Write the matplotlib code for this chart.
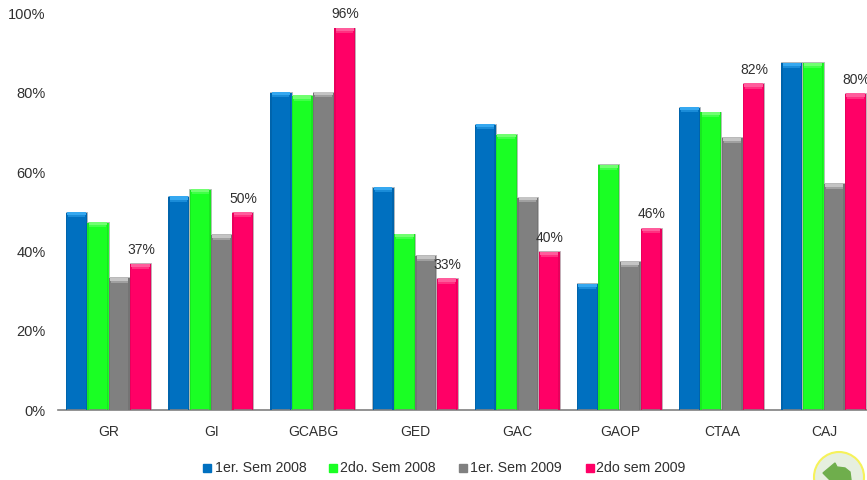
import numpy as np
import matplotlib
matplotlib.use("Agg")
import matplotlib.pyplot as plt
from matplotlib.patches import Circle, Polygon

plt.rcParams['font.family'] = ['Liberation Sans', 'DejaVu Sans']

groups = ['GR', 'GI', 'GCABG', 'GED', 'GAC', 'GAOP', 'CTAA', 'CAJ']
sem1_2008 = [50, 54, 80.3, 56.3, 72.2, 32, 76.5, 87.7]
sem2_2008 = [47.5, 55.8, 79.5, 44.5, 69.7, 62, 75.3, 87.7]
sem1_2009 = [33.5, 44.3, 80.3, 39, 53.8, 37.5, 68.8, 57.2]
sem2_2009 = [37, 50, 96.5, 33.3, 40, 46, 82.5, 80]
labels_2009 = ['37%', '50%', '96%', '33%', '40%', '46%', '82%', '80%']
series_names = ['1er. Sem 2008', '2do. Sem 2008', '1er. Sem 2009', '2do sem 2009']
colors = ['#0070c0', '#1aff24', '#808080', '#ff0066']
tops = ['#35a8f0', '#70ff70', '#c4c4c4', '#ff5c9c']
mids = ['#1a8cd8', '#40ff48', '#a0a0a0', '#ff3080']
sides = ['#0064ac', '#18e820', '#747474', '#e8005c']

W, H = 867, 480
fig = plt.figure(figsize=(W / 100, H / 100), dpi=100)
ax = fig.add_axes([58 / W, (H - 410) / H, (W - 58) / W, (410 - 13.75) / H])
ax.patch.set_alpha(0)

x = np.arange(len(groups))
w = 0.2085
all_series = [sem1_2008, sem2_2008, sem1_2009, sem2_2009]
for i, vals in enumerate(all_series):
    pos = x + (i - 1.5) * w - 0.005
    ax.bar(pos, vals, w * 1.0, color=colors[i], edgecolor='#b8b8b8', linewidth=0.6,
           label=series_names[i], zorder=2)
    # bevel on the top and the sides
    ax.bar(pos, [0.5] * 8, w * 0.8, bottom=np.array(vals) - 1.4, color=mids[i], zorder=3)
    ax.bar(pos, [0.8] * 8, w * 0.88, bottom=np.array(vals) - 0.9, color=tops[i], zorder=3)
    ax.bar(pos - w * 0.46, np.array(vals) - 0.2, w * 0.06, color=sides[i], zorder=3)
    ax.bar(pos + w * 0.46, np.array(vals) - 0.2, w * 0.06, color=sides[i], zorder=3)

for i, v in enumerate(sem2_2009):
    ax.annotate(labels_2009[i], (x[i] + 1.5 * w, v), xytext=(0, 4.5), textcoords='offset points',
                ha='center', va='bottom', fontsize=10, color='#303030', annotation_clip=False, zorder=5)

ax.set_xlim(-0.5, -0.5 + (W - 58) / 102.15)
ax.set_ylim(0, 100)
ax.set_yticks([0, 20, 40, 60, 80, 100])
ax.set_yticklabels(['0%', '20%', '40%', '60%', '80%', '100%'], fontsize=10.5, color='#303030')
ax.set_xticks(x)
ax.set_xticklabels(groups, fontsize=10, color='#303030')
ax.tick_params(axis='both', length=0)
ax.tick_params(axis='y', pad=9)
ax.tick_params(axis='x', pad=11)
for s in ['top', 'right', 'left']:
    ax.spines[s].set_visible(False)
ax.spines['bottom'].set_color('#808080')
ax.spines['bottom'].set_linewidth(1.2)

# legend, each entry placed by hand to sit like the original
leg_x = [207, 333, 463, 590]
leg_text = [215, 340, 470, 596]
for i, name in enumerate(series_names):
    fig.patches.append(plt.Rectangle(((leg_x[i] - 4) / W, (H - 472) / H), 8 / W, 8 / H,
                                     transform=fig.transFigure, color=colors[i]))
    fig.text(leg_text[i] / W, (H - 468) / H, name, fontsize=10.2, color='#303030',
             ha='left', va='center')

# back button, cut by the lower edge
over = fig.add_axes([0, 0, 1, 1])
over.set_xlim(0, W)
over.set_ylim(H, 0)
over.axis('off')
over.patch.set_alpha(0)
over.add_patch(Circle((839, 477), 25, facecolor='#e6efdf', edgecolor='#f6f25a', linewidth=1.5))
over.add_patch(Polygon([(823, 473), (835, 463), (837, 467), (845, 468), (850, 472), (851, 480),
                        (830, 480)], closed=True, color='#6fae4c'))

fig.savefig('out.png', dpi=100)
